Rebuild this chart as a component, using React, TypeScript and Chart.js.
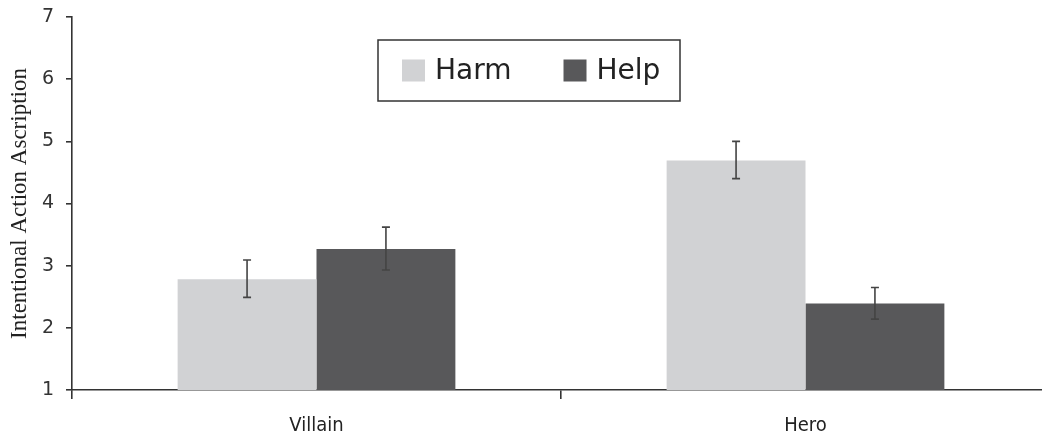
import React, { useEffect, useRef } from "react";
import { Chart, registerables } from "chart.js";

Chart.register(...registerables);

const categories = ["Villain", "Hero"];
const seriesNames = ["Harm", "Help"];
const harmMeans = [2.78, 4.69];
const helpMeans = [3.27, 2.39];
const harmErrLow = [2.49, 4.4];
const harmErrHigh = [3.09, 5.0];
const helpErrLow = [2.93, 2.14];
const helpErrHigh = [3.62, 2.65];
const yTicks = [1, 2, 3, 4, 5, 6, 7];
const yTitle = "Intentional Action Ascription";

const harmColor = "#d1d2d4";
const helpColor = "#58585a";
const axisColor = "#333333";

const errorBarPlugin = {
  id: "errorBars",
  afterDatasetsDraw(chart: any) {
    const ctx = chart.ctx;
    const yScale = chart.scales.y;
    const lows = [harmErrLow, helpErrLow];
    const highs = [harmErrHigh, helpErrHigh];
    ctx.save();
    ctx.strokeStyle = "#444444";
    ctx.lineWidth = 1.6;
    chart.data.datasets.forEach((_: any, di: number) => {
      const meta = chart.getDatasetMeta(di);
      meta.data.forEach((bar: any, i: number) => {
        const x = bar.x;
        const yl = yScale.getPixelForValue(lows[di][i]);
        const yh = yScale.getPixelForValue(highs[di][i]);
        const cap = 4;
        ctx.beginPath();
        ctx.moveTo(x, yl);
        ctx.lineTo(x, yh);
        ctx.moveTo(x - cap, yl);
        ctx.lineTo(x + cap, yl);
        ctx.moveTo(x - cap, yh);
        ctx.lineTo(x + cap, yh);
        ctx.stroke();
      });
    });
    ctx.restore();
  },
};

const boxLegendPlugin = {
  id: "boxLegend",
  afterDraw(chart: any) {
    const ctx = chart.ctx;
    const area = chart.chartArea;
    const left = area.left + 306;
    const top = 40;
    const width = 302;
    const height = 61;
    ctx.save();
    ctx.strokeStyle = axisColor;
    ctx.lineWidth = 1.5;
    ctx.strokeRect(left, top, width, height);
    ctx.font = "28px 'DejaVu Sans', sans-serif";
    ctx.textBaseline = "middle";
    ctx.fillStyle = "#222222";
    let x = left + 24;
    const cy = top + height / 2;
    chart.data.datasets.forEach((ds: any) => {
      ctx.fillStyle = ds.backgroundColor;
      ctx.fillRect(x, cy - 11, 23, 22);
      x += 23 + 10;
      ctx.fillStyle = "#222222";
      ctx.fillText(ds.label, x, cy + 1);
      x += ctx.measureText(ds.label).width + 52;
    });
    ctx.restore();
  },
};

export default function App() {
  const canvasRef = useRef<HTMLCanvasElement | null>(null);

  useEffect(() => {
    if (!canvasRef.current) return;
    const chart = new Chart(canvasRef.current, {
      type: "bar",
      data: {
        labels: categories,
        datasets: [
          {
            label: seriesNames[0],
            data: harmMeans,
            backgroundColor: harmColor,
            borderWidth: 0,
            categoryPercentage: 0.568,
            barPercentage: 1,
          },
          {
            label: seriesNames[1],
            data: helpMeans,
            backgroundColor: helpColor,
            borderWidth: 0,
            categoryPercentage: 0.568,
            barPercentage: 1,
          },
        ],
      },
      options: {
        animation: false,
        responsive: false,
        layout: { padding: { top: 17, left: 0, right: 0, bottom: 0 } },
        plugins: {
          legend: { display: false },
          tooltip: { enabled: false },
        },
        scales: {
          x: {
            offset: true,
            border: { color: axisColor, width: 1.6 },
            grid: {
              offset: true,
              drawOnChartArea: false,
              drawTicks: true,
              tickLength: 9,
              color: axisColor,
              lineWidth: 1.6,
            },
            ticks: {
              color: "#222222",
              padding: 15,
              font: { family: "'DejaVu Sans Condensed', 'DejaVu Sans', sans-serif", size: 20 },
            },
            afterFit: (s: any) => {
              s.height = 48;
              s.paddingLeft = 0;
              s.paddingRight = 0;
            },
          },
          y: {
            min: 1,
            max: 7,
            border: { color: axisColor, width: 1.6 },
            grid: {
              drawOnChartArea: false,
              drawTicks: true,
              tickLength: 6,
              color: axisColor,
              lineWidth: 1.6,
            },
            afterBuildTicks: (s: any) => {
              s.ticks = yTicks.map((v) => ({ value: v }));
            },
            ticks: {
              color: "#333333",
              padding: 12,
              font: { family: "'DejaVu Sans', sans-serif", size: 19 },
            },
            title: {
              display: true,
              text: yTitle,
              color: "#222222",
              padding: { top: 6, bottom: 0 },
              font: { family: "'Liberation Serif', 'Times New Roman', serif", size: 23, weight: "normal" },
            },
            afterFit: (s: any) => {
              s.width = 72;
              s.paddingTop = 0;
              s.paddingBottom = 0;
            },
          },
        },
      },
      plugins: [errorBarPlugin, boxLegendPlugin],
    });
    return () => chart.destroy();
  }, []);

  return (
    <div
      style={{
        position: "absolute",
        left: 0,
        top: 0,
        width: 1042,
        height: 438,
        overflow: "hidden",
        background: "#ffffff",
      }}
    >
      <canvas ref={canvasRef} width={1050} height={438} style={{ display: "block" }} />
    </div>
  );
}
